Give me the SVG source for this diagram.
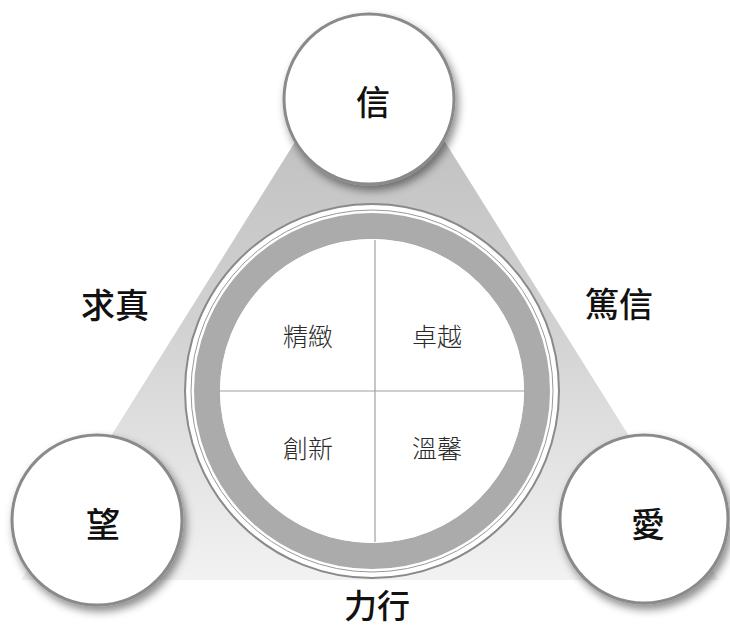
<svg xmlns="http://www.w3.org/2000/svg" width="730" height="630" viewBox="0 0 730 630">
  <defs>
    <linearGradient id="triGrad" x1="0" y1="0" x2="0" y2="1">
      <stop offset="0" stop-color="#b8b8b8"/>
      <stop offset="0.55" stop-color="#d2d2d2"/>
      <stop offset="1" stop-color="#f2f2f2"/>
    </linearGradient>
    <filter id="shadow" x="-30%" y="-30%" width="160%" height="160%">
      <feDropShadow dx="3" dy="5" stdDeviation="4" flood-color="#000" flood-opacity="0.45"/>
    </filter>
    <style>
      .node-circle { fill: #ffffff; stroke: #8a8a8a; stroke-width: 3; filter: url(#shadow); }
      .big { font-family: "Noto Sans CJK TC", "Noto Sans CJK SC", sans-serif; font-size: 34px; font-weight: 500; fill: #111; text-anchor: middle; dominant-baseline: central; }
      .quad { font-family: "Noto Sans CJK TC", "Noto Sans CJK SC", sans-serif; font-size: 25px; font-weight: 300; fill: #2a2a2a; text-anchor: middle; dominant-baseline: central; }
      .divider { stroke: #a0a0a0; stroke-width: 1.2; fill: none; }
    </style>
  </defs>

  <rect width="730" height="630" fill="#ffffff"/>

  <!-- background triangle -->
  <polygon id="triangle" points="370,22 21,580 719,580" fill="url(#triGrad)"/>

  <!-- edge labels -->
  <g id="label-qiuzhen"><text class="big" x="115" y="303">求真</text></g>
  <g id="label-duxin"><text class="big" x="619" y="302">篤信</text></g>
  <g id="label-lixing"><text class="big" x="377" y="604" style="font-size:33px">力行</text></g>

  <!-- central circle -->
  <g id="center">
    <circle cx="372" cy="391" r="187" fill="#ffffff" stroke="#8a8a8a" stroke-width="2"/>
    <circle cx="372" cy="391" r="181" fill="none" stroke="#9a9a9a" stroke-width="1"/>
    <circle cx="372" cy="391" r="165" fill="none" stroke="#ababab" stroke-width="26"/>
    <circle cx="372" cy="391" r="152" fill="#ffffff"/>
  </g>

  <g id="connectors">
    <line class="divider" x1="375" y1="240" x2="375" y2="542"/>
    <line class="divider" x1="220" y1="391" x2="525" y2="391"/>
  </g>

  <g id="q-jingzhi"><text class="quad" x="308" y="335">精緻</text></g>
  <g id="q-zhuoyue"><text class="quad" x="437" y="335">卓越</text></g>
  <g id="q-chuangxin"><text class="quad" x="308" y="447">創新</text></g>
  <g id="q-wenxin"><text class="quad" x="437" y="447">溫馨</text></g>

  <!-- vertex circles -->
  <g id="node-xin">
    <circle class="node-circle" cx="369" cy="99" r="85"/>
    <text class="big" x="373" y="100">信</text>
  </g>
  <g id="node-wang">
    <circle class="node-circle" cx="97" cy="520" r="85"/>
    <text class="big" x="103" y="522">望</text>
  </g>
  <g id="node-ai">
    <circle class="node-circle" cx="644" cy="519" r="84"/>
    <text class="big" x="648" y="522">愛</text>
  </g>
</svg>
